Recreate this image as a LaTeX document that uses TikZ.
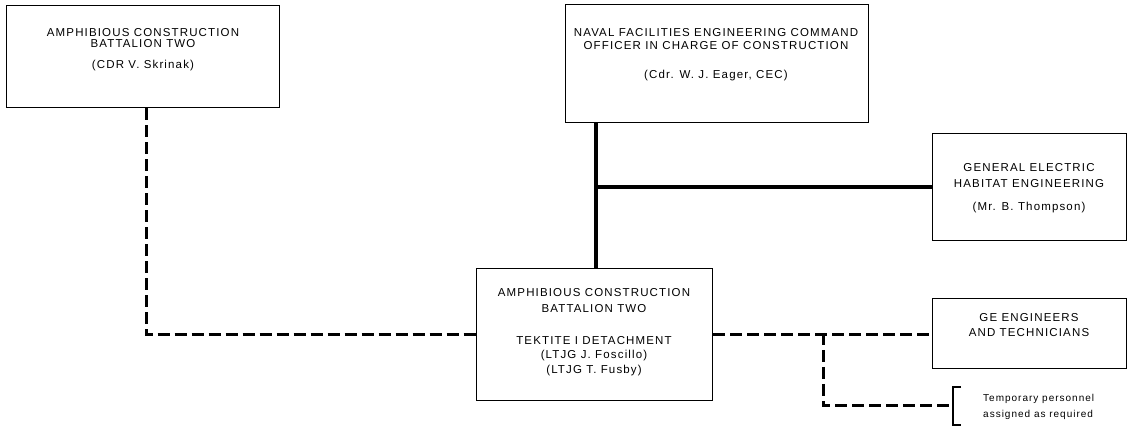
\documentclass[tikz,border=0pt]{standalone}
\usepackage{fontspec}
\setmainfont{Liberation Sans}[LetterSpace=10]
\begin{document}
\begin{tikzpicture}[x=1pt,y=-1pt,
  box/.style={draw, line width=1.1pt, inner sep=0pt, anchor=north west},
  txt/.style={font=\fontsize{11.5}{13}\selectfont, inner sep=0pt},
  small/.style={font=\fontsize{10}{12}\selectfont, inner sep=0pt, anchor=west},
  solidcon/.style={line width=3.2pt},
  dashcon/.style={line width=3pt, dash pattern=on 12pt off 5pt},
  brk/.style={line width=1.3pt}]
\useasboundingbox (0,0) rectangle (1130,427);
% boxes
\node[box, minimum width=273pt, minimum height=102pt] (a) at (6,5) {};
\node[box, minimum width=303pt, minimum height=118pt] (b) at (565,4) {};
\node[box, minimum width=194pt, minimum height=107pt] (d) at (932,133) {};
\node[box, minimum width=236pt, minimum height=132pt] (c) at (476,268) {};
\node[box, minimum width=194pt, minimum height=70pt] (e) at (932,298) {};
% texts
\node[txt] (a1) at (143,33) {AMPHIBIOUS CONSTRUCTION};
\node[txt] (a2) at (143,44) {BATTALION TWO};
\node[txt] (a3) at (143,66) {(CDR V. Skrinak)};
\node[txt] (b1) at (716,33) {NAVAL FACILITIES ENGINEERING COMMAND};
\node[txt] (b2) at (716,46) {OFFICER IN CHARGE OF CONSTRUCTION};
\node[txt] (b3) at (716,76) {(Cdr. W. J. Eager, CEC)};
\node[txt] (d1) at (1029,168) {GENERAL ELECTRIC};
\node[txt] (d2) at (1029,184) {HABITAT ENGINEERING};
\node[txt] (d3) at (1029,208) {(Mr. B. Thompson)};
\node[txt] (c1) at (594,293) {AMPHIBIOUS CONSTRUCTION};
\node[txt] (c2) at (594,309) {BATTALION TWO};
\node[txt] (c3) at (594,341) {TEKTITE I DETACHMENT};
\node[txt] (c4) at (594,356) {(LTJG J. Foscillo)};
\node[txt] (c5) at (594,371) {(LTJG T. Fusby)};
\node[txt] (e1) at (1029,318) {GE ENGINEERS};
\node[txt] (e2) at (1029,333) {AND TECHNICIANS};
\node[small] (t1) at (983,399) {Temporary personnel};
\node[small] (t2) at (983,415) {assigned as required};
% connectors
\coordinate (v) at (596,0);
\draw[solidcon] (b.south -| v) -- (c.north -| v);
\draw[solidcon] (d.west -| v) -- (d.west);
\coordinate (av) at (146,0);
\draw[dashcon] (a.south -| av) |- (c.west);
\draw[dashcon] (c.east) -- (c.east -| e.west);
\coordinate (br) at (823,333);
\coordinate (bt) at (961,387);
\coordinate (bk) at (953,406);
\coordinate (bb) at (961,425);
\draw[dashcon] (br) |- (bk);
\draw[brk] (bt) -| (bk) |- (bb);
\end{tikzpicture}
\end{document}
